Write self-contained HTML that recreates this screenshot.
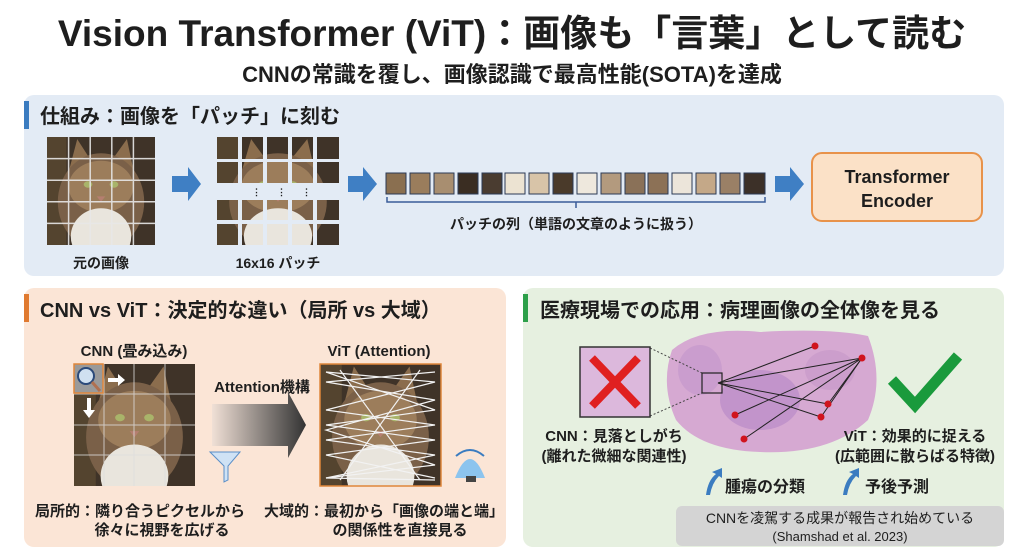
<!DOCTYPE html>
<html><head><meta charset="utf-8"><style>
html,body{margin:0;padding:0;background:#fff;}
svg{display:block;}
text{font-family:"Liberation Sans","Noto Sans CJK JP",sans-serif;font-weight:bold;fill:#1e1e1e;}
</style></head><body>
<svg width="1024" height="558" viewBox="0 0 1024 558" xmlns="http://www.w3.org/2000/svg">
<defs>
<symbol id="cat" viewBox="0 0 100 100" preserveAspectRatio="none">
<rect width="100" height="100" fill="#3f3328"/>
<rect x="0" y="0" width="18" height="100" fill="#54442f"/>
<polygon points="18,40 28,2 46,30" fill="#8b6d4d"/>
<polygon points="54,30 74,2 82,40" fill="#8b6d4d"/>
<ellipse cx="50" cy="60" rx="40" ry="45" fill="#7a6048"/>
<ellipse cx="50" cy="46" rx="30" ry="24" fill="#9c7d5b"/>
<ellipse cx="38" cy="44" rx="4" ry="3" fill="#a9b46a"/>
<ellipse cx="62" cy="44" rx="4" ry="3" fill="#a9b46a"/>
<polygon points="46,55 54,55 50,60" fill="#b57f70"/>
<ellipse cx="50" cy="92" rx="28" ry="26" fill="#e9e5dd"/>
</symbol>
<linearGradient id="ga" x1="0" x2="1"><stop offset="0" stop-color="#f0e0d6"/><stop offset="1" stop-color="#333"/></linearGradient>
</defs>

<text x="512" y="46" font-size="37" text-anchor="middle" fill="#111">Vision Transformer (ViT)：画像も「言葉」として読む</text>
<text x="512" y="82" font-size="22" text-anchor="middle" fill="#111">CNNの常識を覆し、画像認識で最高性能(SOTA)を達成</text>

<rect x="24" y="95" width="980" height="181" rx="10" fill="#e3ebf5"/>
<rect x="24" y="101" width="5" height="28" fill="#3b7cc0"/>
<text x="40" y="123" font-size="20">仕組み：画像を「パッチ」に刻む</text>

<use href="#cat" x="47" y="137" width="108" height="108"/>
<g stroke="#e8e8e8" stroke-width="1.5" opacity="0.9">
<line x1="68.6" y1="137" x2="68.6" y2="245"/><line x1="90.2" y1="137" x2="90.2" y2="245"/><line x1="111.8" y1="137" x2="111.8" y2="245"/><line x1="133.4" y1="137" x2="133.4" y2="245"/>
<line x1="47" y1="158.6" x2="155" y2="158.6"/><line x1="47" y1="180.2" x2="155" y2="180.2"/><line x1="47" y1="201.8" x2="155" y2="201.8"/><line x1="47" y1="223.4" x2="155" y2="223.4"/>
</g>
<text x="101" y="268" font-size="14" text-anchor="middle">元の画像</text>

<polygon points="172,176 188,176 188,167 201,184 188,201 188,192 172,192" fill="#3f7fc4"/>

<use href="#cat" x="217" y="137" width="122" height="108"/>
<g fill="#e3ebf5">
<rect x="238" y="137" width="4" height="108"/><rect x="263" y="137" width="4" height="108"/><rect x="288" y="137" width="4" height="108"/><rect x="313" y="137" width="4" height="108"/>
<rect x="217" y="159" width="122" height="3"/><rect x="217" y="183" width="122" height="17"/><rect x="217" y="220" width="122" height="4"/>
</g>
<text x="252" y="195" font-size="9" fill="#333">⋮</text><text x="277" y="195" font-size="9" fill="#333">⋮</text><text x="302" y="195" font-size="9" fill="#333">⋮</text>
<text x="278" y="268" font-size="14" text-anchor="middle">16x16 パッチ</text>

<polygon points="348,176 363,176 363,167 377,184 363,201 363,192 348,192" fill="#3f7fc4"/>

<g stroke="#2b3a55" stroke-width="1">
<rect x="386" y="173" width="20" height="21" fill="#8a6f50"/>
<rect x="410" y="173" width="20" height="21" fill="#9a7d5c"/>
<rect x="434" y="173" width="20" height="21" fill="#a88e70"/>
<rect x="458" y="173" width="20" height="21" fill="#3a2d22"/>
<rect x="482" y="173" width="20" height="21" fill="#4a3c30"/>
<rect x="505" y="173" width="20" height="21" fill="#ece3d2"/>
<rect x="529" y="173" width="20" height="21" fill="#d8c4a8"/>
<rect x="553" y="173" width="20" height="21" fill="#4a3a2a"/>
<rect x="577" y="173" width="20" height="21" fill="#eee8dd"/>
<rect x="601" y="173" width="20" height="21" fill="#b39a7e"/>
<rect x="625" y="173" width="20" height="21" fill="#8a7158"/>
<rect x="648" y="173" width="20" height="21" fill="#8c7156"/>
<rect x="672" y="173" width="20" height="21" fill="#ece5da"/>
<rect x="696" y="173" width="20" height="21" fill="#c4a888"/>
<rect x="720" y="173" width="20" height="21" fill="#9a8066"/>
<rect x="744" y="173" width="21" height="21" fill="#3c3028"/>
</g>
<path d="M387,197 V202 H765 V197 M576,202 V208" fill="none" stroke="#3b5c9a" stroke-width="1.5"/>
<text x="576" y="229" font-size="14" text-anchor="middle">パッチの列（単語の文章のように扱う）</text>

<polygon points="775,176 790,176 790,167 804,184 790,201 790,192 775,192" fill="#3f7fc4"/>
<rect x="812" y="153" width="170" height="68" rx="10" fill="#fbe1c7" stroke="#e8924a" stroke-width="2"/>
<text x="897" y="183" font-size="18" text-anchor="middle">Transformer</text>
<text x="897" y="207" font-size="18" text-anchor="middle">Encoder</text>

<rect x="24" y="288" width="482" height="259" rx="10" fill="#fbe5d6"/>
<rect x="24" y="294" width="5" height="28" fill="#e07a30"/>
<text x="40" y="317" font-size="20">CNN vs ViT：決定的な違い（局所 vs 大域）</text>
<text x="134" y="356" font-size="15" text-anchor="middle">CNN (畳み込み)</text>
<use href="#cat" x="74" y="364" width="121" height="122"/>
<g stroke="#ddd" stroke-width="1" opacity="0.8">
<line x1="104" y1="364" x2="104" y2="486"/><line x1="134" y1="364" x2="134" y2="486"/><line x1="165" y1="364" x2="165" y2="486"/>
<line x1="74" y1="394" x2="195" y2="394"/><line x1="74" y1="425" x2="195" y2="425"/><line x1="74" y1="455" x2="195" y2="455"/>
</g>
<rect x="74" y="364" width="29" height="29" fill="#9a9a9a" stroke="#e0863a" stroke-width="1.5"/>
<circle cx="86" cy="376" r="8" fill="#cfe0f0" stroke="#2b4a7a" stroke-width="2"/>
<line x1="92" y1="382" x2="100" y2="391" stroke="#b07050" stroke-width="3"/>
<polygon points="108,378 118,378 118,374 125,380 118,386 118,382 108,382" fill="#fff"/>
<polygon points="87,398 91,398 91,410 95,410 89,418 83,410 87,410" fill="#fff"/>
<text x="262" y="392" font-size="15" text-anchor="middle">Attention機構</text>
<polygon points="212,404 288,404 288,392 306,425 288,458 288,446 212,446" fill="url(#ga)"/>
<polygon points="210,452 240,452 228,466 228,480 224,482 224,466" fill="#cfe2f5" stroke="#5b8fc8" stroke-width="1"/>
<text x="379" y="356" font-size="15" text-anchor="middle">ViT (Attention)</text>
<use href="#cat" x="320" y="364" width="121" height="122"/>
<rect x="320" y="364" width="121" height="122" fill="none" stroke="#e0863a" stroke-width="1.5"/>
<g fill="none" stroke="#f2f2f2" stroke-width="1.2">
<polyline points="326,372 435,382 326,410 435,425 326,440 435,455 326,478 435,480"/>
<polyline points="326,372 435,410 326,425 435,440 326,455 435,478"/>
<polyline points="435,372 326,382 435,400 326,430 435,465 326,478"/>
<line x1="340" y1="370" x2="420" y2="480"/><line x1="420" y1="370" x2="340" y2="480"/>
</g>
<path d="M455,478 Q470,440 485,478 Z" fill="#8cc4ee"/>
<rect x="466" y="476" width="10" height="6" fill="#444"/>
<path d="M456,456 Q470,444 484,456" fill="none" stroke="#3b7cc0" stroke-width="2"/>
<text x="140" y="516" font-size="15" text-anchor="middle">局所的：隣り合うピクセルから</text>
<text x="162" y="535" font-size="15" text-anchor="middle">徐々に視野を広げる</text>
<text x="384" y="516" font-size="15" text-anchor="middle">大域的：最初から「画像の端と端」</text>
<text x="400" y="535" font-size="15" text-anchor="middle">の関係性を直接見る</text>

<rect x="523" y="288" width="481" height="259" rx="10" fill="#e6f0e0"/>
<rect x="523" y="294" width="5" height="28" fill="#2da04a"/>
<text x="540" y="317" font-size="20">医療現場での応用：病理画像の全体像を見る</text>
<g>
<path d="M672,350 Q700,326 760,332 Q830,328 868,336 Q885,380 868,420 Q830,455 760,452 Q700,450 676,420 Q660,385 672,350 Z" fill="#d6a9d2"/>
<ellipse cx="760" cy="400" rx="40" ry="30" fill="#b98cc8" opacity="0.7"/>
<ellipse cx="830" cy="370" rx="25" ry="20" fill="#c79ac9" opacity="0.7"/>
<ellipse cx="700" cy="370" rx="22" ry="25" fill="#c598cc" opacity="0.7"/>
</g>
<line x1="650" y1="348" x2="702" y2="373" stroke="#444" stroke-dasharray="2,2"/>
<line x1="650" y1="416" x2="702" y2="393" stroke="#444" stroke-dasharray="2,2"/>
<rect x="580" y="347" width="70" height="70" fill="#dcb8dc" stroke="#333" stroke-width="1.5"/>
<path d="M592,358 L638,406 M638,358 L592,406" stroke="#e02020" stroke-width="8"/>
<rect x="702" y="373" width="20" height="20" fill="none" stroke="#222" stroke-width="1.2"/>
<g stroke="#222" stroke-width="1">
<line x1="718" y1="383" x2="815" y2="346"/><line x1="718" y1="383" x2="862" y2="358"/><line x1="718" y1="383" x2="828" y2="404"/><line x1="718" y1="383" x2="821" y2="417"/>
<line x1="862" y1="358" x2="828" y2="404"/><line x1="862" y1="358" x2="821" y2="417"/><line x1="862" y1="358" x2="735" y2="415"/><line x1="862" y1="358" x2="744" y2="439"/>
</g>
<g fill="#d0141e"><circle cx="815" cy="346" r="3.5"/><circle cx="862" cy="358" r="3.5"/><circle cx="828" cy="404" r="3.5"/><circle cx="821" cy="417" r="3.5"/><circle cx="735" cy="415" r="3.5"/><circle cx="744" cy="439" r="3.5"/></g>
<path d="M892,380 L915,405 L958,356" fill="none" stroke="#1a9a3c" stroke-width="11"/>
<text x="614" y="441" font-size="15" text-anchor="middle">CNN：見落としがち</text>
<text x="614" y="461" font-size="15" text-anchor="middle">(離れた微細な関連性)</text>
<text x="915" y="441" font-size="15" text-anchor="middle">ViT：効果的に捉える</text>
<text x="915" y="461" font-size="15" text-anchor="middle">(広範囲に散らばる特徴)</text>
<path d="M706,495 Q708,480 716,474 L712,472 L722,468 L722,478 L719,476 Q712,483 710,495 Z" fill="#3b7cc0"/>
<text x="725" y="492" font-size="16">腫瘍の分類</text>
<path d="M843,495 Q845,480 853,474 L849,472 L859,468 L859,478 L856,476 Q849,483 847,495 Z" fill="#3b7cc0"/>
<text x="865" y="492" font-size="16">予後予測</text>
<rect x="676" y="506" width="328" height="40" rx="6" fill="#d4d4d4"/>
<text x="840" y="523" font-size="14" text-anchor="middle" style="font-weight:normal">CNNを凌駕する成果が報告され始めている</text>
<text x="840" y="541" font-size="13" text-anchor="middle" style="font-weight:normal" fill="#333">(Shamshad et al. 2023)</text>
</svg>
</body></html>
